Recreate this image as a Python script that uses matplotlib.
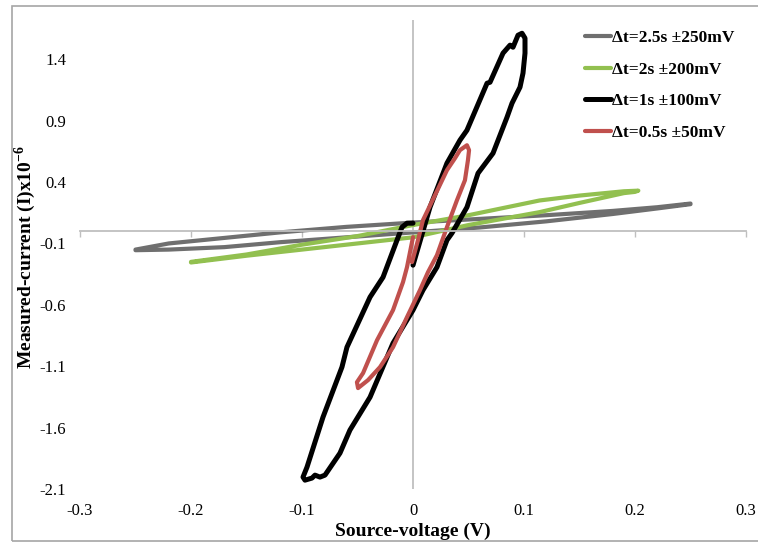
import matplotlib.pyplot as plt
from matplotlib.patches import Rectangle

plt.rcParams['font.family'] = ['Liberation Serif', 'DejaVu Serif']
plt.rcParams['mathtext.fontset'] = 'custom'
plt.rcParams['mathtext.rm'] = 'Liberation Serif'
plt.rcParams['mathtext.bf'] = 'Liberation Serif:bold'

# --- data (V, I x1e-6) ---
gray_v = [0, 0.06, 0.12, 0.18, 0.22, 0.25, 0.25, 0.22, 0.18, 0.12, 0.06, 0,
          -0.06, -0.12, -0.17, -0.22, -0.25, -0.25, -0.22, -0.17, -0.12, -0.06, 0]
gray_i = [0.07, 0.10, 0.13, 0.165, 0.195, 0.225, 0.22, 0.185, 0.14, 0.08, 0.03, -0.01,
          -0.05, -0.09, -0.13, -0.15, -0.155, -0.15, -0.10, -0.055, -0.01, 0.035, 0.07]

green_v = [0, 0.05, 0.114, 0.15, 0.19, 0.203, 0.2, 0.19, 0.15, 0.114, 0.05, 0,
           -0.05, -0.1, -0.15, -0.2, -0.2, -0.15, -0.1, -0.05, 0]
green_i = [0.05, 0.13, 0.25, 0.29, 0.325, 0.33, 0.32, 0.31, 0.23, 0.155, 0.05, -0.05,
           -0.10, -0.15, -0.20, -0.255, -0.25, -0.19, -0.11, -0.04, 0.05]

black_v = [0, 0.0153, 0.0306, 0.0423, 0.0486, 0.0667, 0.0694, 0.0811, 0.0874, 0.0901,
           0.0946, 0.0982, 0.1009, 0.1009, 0.0991, 0.0964, 0.0892, 0.0847, 0.0721, 0.0586,
           0.0486, 0.0351, 0.0306, 0.0216, 0.009, 0, -0.018, -0.0387, -0.0568, -0.0658,
           -0.0793, -0.0838, -0.0883, -0.091, -0.0973, -0.0991, -0.0955, -0.0811, -0.064,
           -0.0595, -0.0387, -0.027, -0.0144, -0.0099, -0.0054, 0]
black_i = [-0.277, 0.195, 0.554, 0.741, 0.822, 1.205, 1.213, 1.45, 1.515, 1.498,
           1.596, 1.612, 1.572, 1.45, 1.287, 1.173, 1.042, 0.928, 0.635, 0.472,
           0.195, -0.016, -0.073, -0.293, -0.48, -0.643, -0.912, -1.352, -1.62, -1.808,
           -1.987, -2.003, -1.987, -2.011, -2.028, -2.003, -1.922, -1.515, -1.107,
           -0.945, -0.537, -0.375, -0.073, 0.033, 0.065, 0.065]

red_v = [-0.0009, 0.0045, 0.009, 0.0198, 0.0306, 0.0378, 0.0423, 0.0486, 0.0505, 0.0495,
         0.0468, 0.0396, 0.0306, 0.0216, 0.0135, 0.0063, -0.0054, -0.018, -0.0297, -0.0405,
         -0.0495, -0.0505, -0.045, -0.0324, -0.018, -0.009, -0.0054, -0.0027, 0]
red_i = [-0.252, -0.073, 0.09, 0.293, 0.497, 0.594, 0.66, 0.70, 0.66, 0.578,
         0.415, 0.252, 0.033, -0.195, -0.334, -0.48, -0.70, -0.945, -1.107, -1.213,
         -1.278, -1.23, -1.156, -0.888, -0.643, -0.415, -0.293, -0.171, -0.049]

labels = ['\u0394t=2.5s \u00b1250mV', '\u0394t=2s \u00b1200mV',
          '\u0394t=1s \u00b1100mV', '\u0394t=0.5s \u00b150mV']
x_ticks = [-0.3, -0.2, -0.1, 0, 0.1, 0.2, 0.3]
y_ticks = [1.4, 0.9, 0.4, -0.1, -0.6, -1.1, -1.6, -2.1]

fig = plt.figure(figsize=(7.58, 5.44), dpi=100)
ax = fig.add_axes([80 / 758, 1 - 489 / 544, 666 / 758, 469 / 544])

ax.plot(gray_v, gray_i, color='#6f6f6f', lw=3.0, label=labels[0], solid_capstyle='round')
ax.plot(green_v, green_i, color='#92c050', lw=3.0, label=labels[1], solid_capstyle='round')
ax.plot(black_v, black_i, color='black', lw=3.6, label=labels[2], solid_capstyle='round')
ax.plot(red_v, red_i, color='#c0504d', lw=3.0, label=labels[3], solid_capstyle='round')

ax.set_xlim(-0.3, 0.3)
ax.set_ylim(-2.1, 1.72)

axis_col = '#bfbfbf'
for s in ['top', 'right', 'left']:
    ax.spines[s].set_visible(False)
ax.spines['bottom'].set_position(('data', 0))
ax.spines['bottom'].set_color(axis_col)
ax.spines['bottom'].set_linewidth(1.3)
ax.axvline(0, color=axis_col, lw=1.3, zorder=0)

ax.set_xticks(x_ticks)
ax.tick_params(axis='x', direction='out', length=4, width=1, color=axis_col, labelbottom=False)
ax.set_yticks(y_ticks)
ax.set_yticklabels([f'{t:.1f}' for t in y_ticks])
ax.tick_params(axis='y', length=0, pad=10, labelsize=12)

sec = ax.secondary_xaxis('bottom')
sec.set_xticks(x_ticks)
sec.set_xticklabels(['-0.3', '-0.2', '-0.1', '0', '0.1', '0.2', '0.3'])
sec.spines['bottom'].set_visible(False)
sec.tick_params(length=0, pad=10, labelsize=12)
sec.set_xlabel('Source-voltage (V)', fontsize=14, fontweight='bold', labelpad=3)

fig.text(25 / 758, 1 - 257 / 544, r'Measured-current (I)x10$^{\mathbf{-6}}$',
         rotation=90, ha='center', va='center', fontsize=14, fontweight='bold')

ax.legend(loc='upper left', bbox_to_anchor=(576 / 758, 1 - 21 / 544),
          bbox_transform=fig.transFigure, frameon=False, borderpad=0,
          handlelength=1.5, handletextpad=0.1, labelspacing=0.9,
          prop={'weight': 'bold', 'size': 12.5})

fig.patches.append(Rectangle((12 / 758, 3 / 544), 760 / 758, 535 / 544,
                             transform=fig.transFigure, fill=False,
                             edgecolor='#a6a6a6', lw=1.2))

fig.savefig('out.png', dpi=100)
